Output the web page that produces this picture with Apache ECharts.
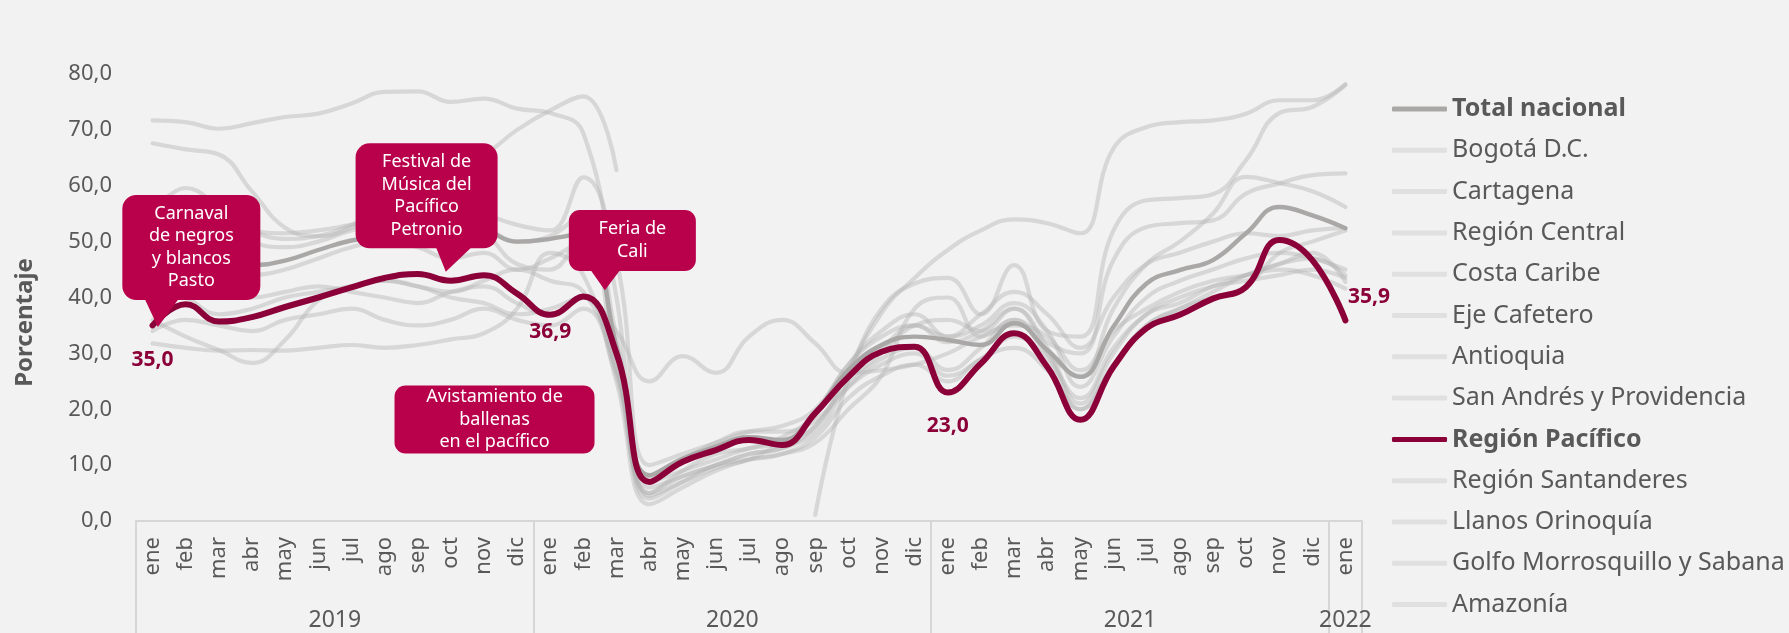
<!DOCTYPE html>
<html>
<head>
<meta charset="utf-8">
<script src="https://cdn.jsdelivr.net/npm/echarts@6/dist/echarts.min.js"></script>
<style>
  html, body { margin: 0; padding: 0; background: #f2f2f2; }
  #chart { width: 1789px; height: 633px; }
</style>
</head>
<body>
<div id="chart"></div>
<script>
// Ocupación hotelera mensual por región, ene 2019 – ene 2022 (porcentaje)
const monthNames = ['ene', 'feb', 'mar', 'abr', 'may', 'jun', 'jul', 'ago', 'sep', 'oct', 'nov', 'dic'];
const monthLabels = [].concat(monthNames, monthNames, monthNames, ['ene']);
const yearLabels = ['2019', '2020', '2021', '2022'];
const monthsPerYear = [12, 12, 12, 1];

const totalNacional = [47.0, 46.5, 45.8, 45.8, 46.6, 48.5, 50.2, 51.0, 52.0, 52.5, 52.0, 50.0,
  50.5, 51.5, 31.2, 8.2, 11.2, 13.3, 15.0, 14.5, 19.5, 27.0, 31.5, 33.0,
  32.4, 31.5, 35.4, 30.6, 25.8, 34.8, 42.5, 44.9, 46.7, 51.5, 56.2, 54.7, 52.4];
const bogota = [53.0, 56.2, 55.0, 52.0, 51.5, 52.0, 53.0, 54.0, 54.0, 53.0, 51.5, 46.0,
  45.0, 52.0, 28.0, 6.0, 8.0, 10.0, 12.0, 13.0, 16.0, 24.0, 29.0, 31.0,
  27.0, 31.0, 36.0, 30.0, 26.0, 38.0, 46.0, 50.0, 55.0, 61.6, 60.5, 59.0, 56.2];
const cartagena = [71.7, 71.4, 70.2, 71.2, 72.3, 72.9, 74.7, 76.8, 76.9, 75.0, 75.6, 73.8,
  73.0, 69.4, 40.0, 4.5, 7.0, 9.5, 11.0, 14.0, 17.0, 27.0, 38.0, 42.5,
  43.5, 37.0, 45.8, 34.0, 33.0, 52.0, 57.4, 57.8, 58.5, 64.6, 73.0, 74.1, 78.0];
const regionCentral = [55.0, 59.6, 56.2, 52.0, 50.5, 51.0, 53.0, 56.0, 58.0, 57.0, 55.0, 53.0,
  52.0, 61.5, 46.7, 10.0, 12.0, 14.0, 16.0, 17.0, 20.0, 28.0, 33.0, 35.0,
  32.0, 34.0, 38.0, 32.0, 30.0, 46.7, 52.6, 53.3, 53.8, 58.6, 60.4, 61.9, 62.2];
const costaCaribe = [48.0, 50.0, 47.0, 44.0, 45.0, 47.0, 49.0, 50.0, 49.0, 47.0, 48.0, 45.0,
  47.0, 50.0, 31.0, 5.0, 9.0, 12.0, 13.0, 15.0, 19.0, 27.0, 31.0, 35.0,
  33.0, 35.0, 39.0, 34.0, 24.0, 33.0, 40.0, 43.0, 45.0, 47.0, 48.0, 47.0, 45.0];
const ejeCafetero = [42.0, 40.0, 37.0, 38.0, 40.0, 41.0, 42.0, 43.0, 42.0, 41.0, 43.0, 45.0,
  43.0, 41.0, 27.0, 5.0, 8.0, 10.0, 12.0, 13.0, 17.0, 25.0, 30.0, 35.0,
  36.0, 34.0, 38.0, 31.0, 21.0, 30.0, 37.0, 39.0, 42.0, 44.0, 46.0, 48.0, 42.8];
const antioquia = [57.0, 58.0, 54.0, 50.0, 49.0, 50.0, 52.0, 53.0, 52.0, 51.0, 52.0, 50.0,
  51.0, 55.0, 33.0, 7.0, 9.0, 11.0, 13.0, 14.0, 19.0, 28.0, 34.0, 37.0,
  33.0, 37.0, 41.0, 37.0, 31.0, 40.0, 46.0, 48.0, 50.0, 51.5, 51.0, 52.0, 52.4];
const sanAndres = [67.6, 66.5, 65.6, 59.0, 52.5, 51.0, 52.5, 56.0, 59.0, 63.0, 65.5, 70.0,
  73.5, 76.0, 62.8, null, null, null, null, null, 1.1, 25.5, 37.2, 43.5,
  48.5, 52.0, 54.0, 53.3, 51.5, 66.7, 70.5, 71.4, 71.7, 72.9, 75.3, 75.3, 78.2];
const regionPacifico = [35.0, 38.8, 35.7, 36.5, 38.3, 40.0, 41.8, 43.5, 44.2, 43.0, 44.0, 40.7,
  36.9, 40.2, 30.0, 7.0, 10.6, 12.7, 14.5, 13.6, 19.3, 25.8, 30.3, 31.2,
  23.0, 28.2, 33.6, 27.6, 18.1, 27.6, 34.5, 36.9, 39.8, 41.9, 50.3, 46.7, 35.9];
const santanderes = [40.0, 43.0, 42.0, 40.0, 41.0, 42.0, 41.0, 40.0, 39.0, 41.0, 42.0, 39.0,
  37.0, 40.0, 27.0, 8.0, 11.0, 14.0, 16.0, 16.0, 18.0, 24.0, 28.0, 30.0,
  26.0, 29.0, 33.0, 29.0, 22.0, 31.0, 37.0, 40.0, 42.0, 43.0, 44.0, 45.0, 43.5];
const llanos = [36.0, 33.0, 30.6, 28.3, 32.4, 39.5, 42.0, 43.0, 42.0, 40.0, 39.0, 37.0,
  38.0, 40.0, 34.0, 25.0, 29.5, 26.5, 33.0, 36.0, 31.8, 26.5, 27.0, 28.0,
  30.0, 33.0, 35.0, 33.0, 27.0, 34.0, 38.0, 41.0, 43.0, 44.0, 45.0, 44.0, 41.6];
const golfo = [31.8, 31.0, 30.5, 30.6, 30.5, 31.0, 31.5, 31.0, 31.5, 32.5, 33.6, 38.0,
  48.0, 44.0, 25.0, 3.0, 6.0, 9.0, 11.0, 12.0, 14.0, 20.0, 26.0, 38.0,
  40.0, 33.0, 36.0, 30.0, 20.0, 28.0, 35.0, 38.0, 41.0, 44.0, 46.0, 47.0, 44.0];
const amazonia = [34.0, 36.0, 35.0, 34.0, 36.0, 37.0, 38.0, 36.0, 35.0, 36.0, 38.0, 36.0,
  35.0, 38.0, 26.0, 4.0, 7.0, 10.0, 11.0, 12.0, 15.0, 22.0, 26.0, 28.0,
  25.0, 29.0, 31.0, 27.0, 20.0, 28.0, 35.0, 38.0, 40.0, 42.0, 47.9, 50.0, 52.0];

// Meses de la Región Pacífico que llevan etiqueta de valor
const labeledMonths = [0, 12, 24, 36];

// Eventos señalados sobre la serie
const eventTexts = [
  'Carnaval\nde negros\ny blancos\nPasto',
  'Festival de\nMúsica del\nPacífico\nPetronio',
  'Feria de\nCali',
  'Avistamiento de\nballenas\nen el pacífico'
];

const FONT = "'Noto Sans', sans-serif";
const TEXT = '#595959';
const LIGHT = 'rgba(178,178,178,0.42)';
const LIGHT_KEY = '#e0e0e0';
const GREY = '#aaa7a7';
const WINE = '#8c0039';
const NOTE = '#b9004b';

const lightSeries = [
  ['Bogotá D.C.', bogota],
  ['Cartagena', cartagena],
  ['Región Central', regionCentral],
  ['Costa Caribe', costaCaribe],
  ['Eje Cafetero', ejeCafetero],
  ['Antioquia', antioquia],
  ['San Andrés y Providencia', sanAndres]
];
const lightSeriesTail = [
  ['Región Santanderes', santanderes],
  ['Llanos Orinoquía', llanos],
  ['Golfo Morrosquillo y Sabana', golfo],
  ['Amazonía', amazonia]
];

function lightLine([name, data]) {
  return {
    name, type: 'line', data, smooth: 0.45, symbol: 'none', connectNulls: false, z: 2,
    lineStyle: { color: LIGHT, width: 4.2, cap: 'round', join: 'round' },
    itemStyle: { color: LIGHT }
  };
}

const fmt = v => v.toFixed(1).replace('.', ',');

const labelPlacement = {
  0: { position: 'bottom', distance: 24 },
  12: { position: 'bottom', distance: 6 },
  24: { position: 'bottom', distance: 23 },
  36: { position: 'right', distance: 2, offset: [0, -23] }
};

const pacificoData = regionPacifico.map((v, i) => {
  if (labeledMonths.indexOf(i) < 0) return v;
  return {
    value: v,
    label: Object.assign({
      show: true, formatter: p => fmt(p.value),
      color: WINE, fontWeight: 'bold', fontSize: 21, fontFamily: FONT
    }, labelPlacement[i])
  };
});

const boundaries = monthsPerYear.reduce((acc, n) => acc.concat(acc[acc.length - 1] + n), [0]);
const yearCenters = yearLabels.map((_, i) => (boundaries[i] + boundaries[i + 1]) / 2);

const series = [
  {
    name: 'Total nacional', type: 'line', data: totalNacional, smooth: 0.45, symbol: 'none', z: 3,
    lineStyle: { color: GREY, width: 4.4, cap: 'round', join: 'round' }, itemStyle: { color: GREY }
  }
].concat(lightSeries.map(lightLine), [
  {
    name: 'Región Pacífico', type: 'line', data: pacificoData, smooth: 0.45,
    symbol: 'circle', symbolSize: 1, showSymbol: true, showAllSymbol: true, z: 4,
    lineStyle: { color: WINE, width: 6, cap: 'round', join: 'round' }, itemStyle: { color: WINE },
    label: { show: false }
  }
], lightSeriesTail.map(lightLine));

const boldNames = ['Total nacional', 'Región Pacífico'];
const keyColor = name => name === 'Total nacional' ? GREY : (name === 'Región Pacífico' ? WINE : LIGHT_KEY);

const chart = echarts.init(document.getElementById('chart'));
chart.setOption({
  animation: false,
  backgroundColor: '#f2f2f2',
  textStyle: { fontFamily: FONT },
  grid: { left: 136, right: 427, top: 74, bottom: 112, containLabel: false },
  legend: {
    orient: 'vertical', left: 1387, top: 89, itemGap: 11.3,
    itemWidth: 55, itemHeight: 5,
    textStyle: {
      color: TEXT, fontSize: 25, fontFamily: FONT, lineHeight: 30,
      rich: { b: { color: TEXT, fontSize: 25, fontWeight: 'bold', fontFamily: FONT, lineHeight: 30 } }
    },
    formatter: name => boldNames.indexOf(name) >= 0 ? '{b|' + name + '}' : name,
    data: series.map(s => ({ name: s.name, icon: 'roundRect', itemStyle: { color: keyColor(s.name) } }))
  },
  xAxis: [
    {
      type: 'category', data: monthLabels, boundaryGap: true,
      axisLine: { lineStyle: { color: '#d6d6d6', width: 2 } },
      axisTick: { show: false },
      axisLabel: { interval: 0, rotate: 90, margin: 16, fontSize: 22, color: TEXT, fontFamily: FONT }
    },
    {
      type: 'value', min: 0, max: boundaries[boundaries.length - 1], position: 'bottom',
      axisLine: { show: false }, splitLine: { show: false },
      axisTick: { show: true, inside: false, length: 113, customValues: boundaries,
        lineStyle: { color: '#d6d6d6', width: 2 } },
      axisLabel: {
        customValues: yearCenters, margin: 88, fontSize: 23, color: TEXT, fontFamily: FONT,
        formatter: v => yearLabels[yearCenters.indexOf(v)] || ''
      }
    }
  ],
  yAxis: {
    type: 'value', min: 0, max: 80, interval: 10,
    axisLine: { show: false }, axisTick: { show: false }, splitLine: { show: false },
    axisLabel: { formatter: fmt, fontSize: 22, color: TEXT, margin: 24, fontFamily: FONT }
  },
  series
});

// Cuadros de eventos: centro y punta en coordenadas de los ejes (mes, porcentaje)
const noteLayout = [
  { center: [1.17, 48.95], w: 138, h: 105, r: 14, tip: [0.16, 34.7], base: [22, 57] },
  { center: [8.27, 58.2], w: 142, h: 105, r: 14, tip: [8.85, 44.6], base: [80, 117] },
  { center: [14.48, 50.2], w: 127, h: 61, r: 11, tip: [13.65, 41.3], base: [21, 52] },
  { center: [10.32, 18.17], w: 200, h: 68, r: 11 }
];

function drawNotes() {
  const px = m => chart.convertToPixel({ xAxisIndex: 1 }, m + 0.5);
  const py = v => chart.convertToPixel({ yAxisIndex: 0 }, v);
  const elements = [{
    type: 'text', x: 25, y: (py(80) + py(0)) / 2 + 25, rotation: Math.PI / 2, z: 50,
    style: { text: 'Porcentaje', fill: TEXT, fontSize: 24, fontWeight: 'bold', fontFamily: FONT,
      align: 'center', verticalAlign: 'middle' }
  }];
  noteLayout.forEach((n, i) => {
    const cx = px(n.center[0]), cy = py(n.center[1]);
    const left = cx - n.w / 2, top = cy - n.h / 2;
    elements.push({
      type: 'rect', z: 100, zlevel: 1, shape: { x: left, y: top, width: n.w, height: n.h, r: n.r },
      style: { fill: NOTE }
    });
    if (n.tip) {
      elements.push({
        type: 'polygon', z: 100, zlevel: 1,
        shape: { points: [[left + n.base[0], top + n.h - 2], [px(n.tip[0]), py(n.tip[1])], [left + n.base[1], top + n.h - 2]] },
        style: { fill: NOTE }
      });
    }
    elements.push({
      type: 'text', z: 101, zlevel: 1, x: cx, y: cy,
      style: { text: eventTexts[i], fill: '#ffffff', fontSize: 18, lineHeight: 22.5, fontFamily: FONT,
        align: 'center', verticalAlign: 'middle' }
    });
  });
  chart.setOption({ graphic: elements });
}
drawNotes();
</script>
</body>
</html>
